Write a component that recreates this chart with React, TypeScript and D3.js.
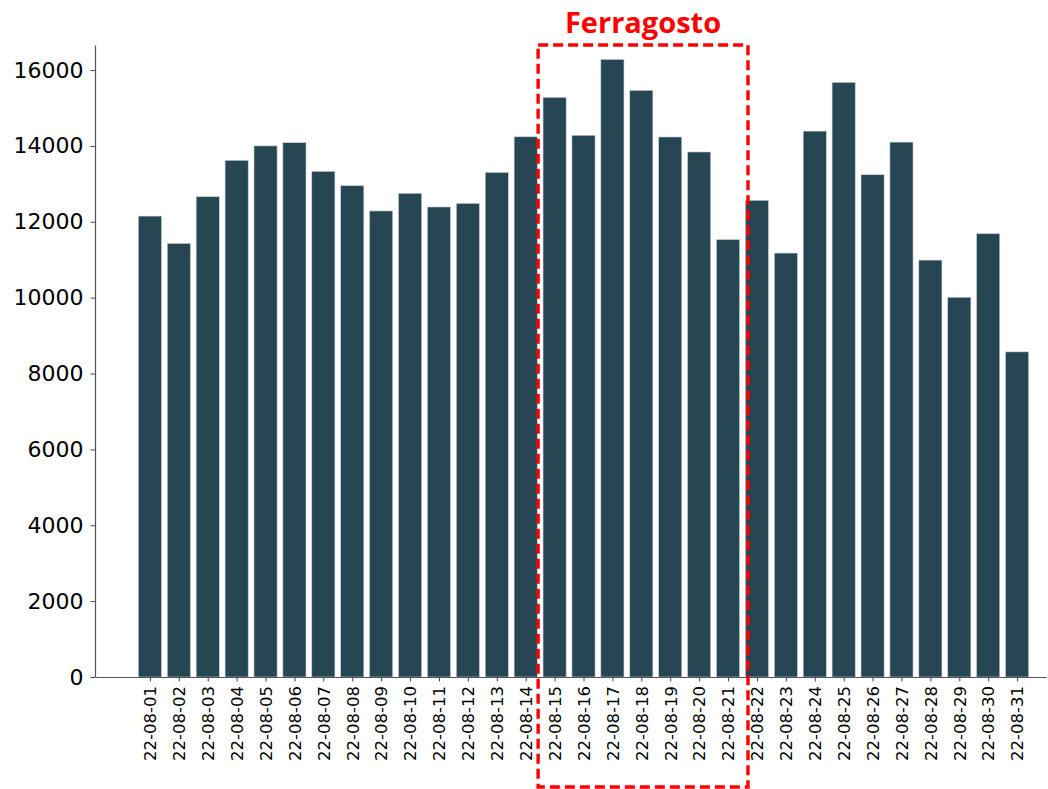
import * as d3 from 'd3';
import React, { useEffect, useRef } from 'react';

// daily counts, August 2022
const dates = [
    '22-08-01', '22-08-02', '22-08-03', '22-08-04', '22-08-05', '22-08-06', '22-08-07', '22-08-08',
    '22-08-09', '22-08-10', '22-08-11', '22-08-12', '22-08-13', '22-08-14', '22-08-15', '22-08-16',
    '22-08-17', '22-08-18', '22-08-19', '22-08-20', '22-08-21', '22-08-22', '22-08-23', '22-08-24',
    '22-08-25', '22-08-26', '22-08-27', '22-08-28', '22-08-29', '22-08-30', '22-08-31'
];
const counts = [
    12150, 11430, 12660, 13620, 14000, 14085, 13330, 12950,
    12285, 12750, 12390, 12485, 13300, 14240, 15280, 14280,
    16280, 15465, 14235, 13840, 11530, 12565, 11175, 14390,
    15675, 13240, 14100, 10990, 10010, 11685, 8570
];
const yTicks = [0, 2000, 4000, 6000, 8000, 10000, 12000, 14000, 16000];
const highlightLabel = 'Ferragosto';
const highlightFrom = '22-08-15';
const highlightTo = '22-08-21';

const App = () => {
    const chartArea = useRef(null);
    const width = 1048, height = 789;
    const margin = { top: 45, right: 2, bottom: 112, left: 95 };

    useEffect(() => {
        const svg = d3.select(chartArea.current);
        svg.selectAll('*').remove();

        const plotW = width - margin.left - margin.right;
        const plotH = height - margin.top - margin.bottom;

        // bar index -> pixel, matching the odd left padding of the original
        const x = d3.scaleLinear().domain([-1.9, 31]).range([0, plotW]);
        const step = x(1) - x(0);
        const barW = step * 0.8;

        const y = d3.scaleLinear().domain([0, 16660]).range([plotH, 0]);

        const g = svg.append('g')
            .attr('transform', 'translate(' + margin.left + ',' + margin.top + ')');

        g.selectAll('rect.bar')
            .data(counts)
            .join('rect')
            .attr('class', 'bar')
            .attr('x', (d, i) => x(i) - barW / 2)
            .attr('y', d => y(d))
            .attr('width', barW)
            .attr('height', d => plotH - y(d))
            .attr('fill', '#264653')
            .attr('stroke', '#c8d0d4')
            .attr('stroke-width', 0.6);

        // y axis
        const yAxis = g.append('g')
            .call(d3.axisLeft(y).tickValues(yTicks).tickSize(4.5).tickSizeOuter(0).tickPadding(7).tickFormat(d3.format('d')));
        yAxis.select('.domain').attr('stroke', '#555').attr('stroke-width', 1.2);
        yAxis.selectAll('.tick line').attr('stroke', '#444');
        yAxis.selectAll('.tick text')
            .attr('fill', '#000')
            .style('font-family', '"DejaVu Sans", sans-serif')
            .style('font-size', '22px');

        // x axis
        const xAxis = g.append('g')
            .attr('transform', 'translate(0,' + plotH + ')')
            .call(d3.axisBottom(x).tickValues(d3.range(dates.length)).tickSize(4.5).tickSizeOuter(0)
                .tickFormat((d: any) => dates[d]));
        xAxis.select('.domain').attr('stroke', '#555').attr('stroke-width', 1.2);
        xAxis.selectAll('.tick line').attr('stroke', '#444');
        xAxis.selectAll('.tick text')
            .attr('fill', '#000')
            .attr('transform', 'rotate(-90)')
            .attr('text-anchor', 'end')
            .attr('x', -9)
            .attr('y', 0)
            .attr('dy', '0.35em')
            .style('font-family', '"DejaVu Sans", sans-serif')
            .style('font-size', '16.5px');

        // Ferragosto box
        const i0 = dates.indexOf(highlightFrom);
        const i1 = dates.indexOf(highlightTo);
        const bx0 = margin.left + x(i0 - 0.57);
        const bx1 = margin.left + x(i1 + 0.69);
        svg.append('rect')
            .attr('x', bx0)
            .attr('y', 45)
            .attr('width', bx1 - bx0)
            .attr('height', 742)
            .attr('fill', 'none')
            .attr('stroke', '#ff0000')
            .attr('stroke-width', 3.4)
            .attr('stroke-dasharray', '10,5');

        svg.append('text')
            .attr('x', (bx0 + bx1) / 2)
            .attr('y', 33)
            .attr('text-anchor', 'middle')
            .attr('fill', '#ff0000')
            .style('font-family', '"Open Sans", sans-serif')
            .style('font-weight', 'bold')
            .style('font-size', '29px')
            .text(highlightLabel);
    }, []);

    return <svg
        ref={chartArea}
        width={width}
        height={height}
        style={{ position: 'absolute', left: 0, top: 0, background: '#fff' }}
    />;
}
export default App;
